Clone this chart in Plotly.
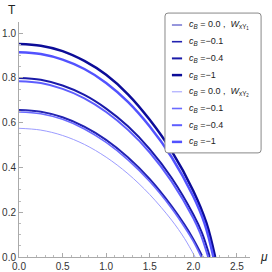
import plotly.graph_objects as go

# ---- data ----
mu_w1_c0 = [0, 0.25, 0.5, 0.75, 1.0, 1.25, 1.5, 1.75, 1.9, 2.0, 2.10]
T_w1_c0 = [0.655, 0.647, 0.622, 0.579, 0.520, 0.442, 0.345, 0.225, 0.141, 0.077, 0.0]

mu_w1_c01 = [0, 0.25, 0.5, 0.75, 1.0, 1.25, 1.5, 1.75, 1.9, 2.0, 2.11]
T_w1_c01 = [0.658, 0.650, 0.625, 0.583, 0.524, 0.446, 0.349, 0.229, 0.145, 0.081, 0.0]

mu_w1_c04 = [0, 0.25, 0.5, 0.75, 1.0, 1.25, 1.5, 1.75, 2.0, 2.1, 2.19]
T_w1_c04 = [0.800, 0.792, 0.766, 0.724, 0.663, 0.584, 0.482, 0.354, 0.190, 0.107, 0.0]

mu_w1_c1 = [0, 0.25, 0.5, 0.75, 1.0, 1.25, 1.5, 1.75, 2.0, 2.15, 2.25]
T_w1_c1 = [0.952, 0.944, 0.920, 0.876, 0.814, 0.727, 0.613, 0.474, 0.295, 0.152, 0.0]

mu_w2_c0 = [0, 0.25, 0.5, 0.75, 1.0, 1.25, 1.5, 1.75, 1.9, 2.02]
T_w2_c0 = [0.575, 0.567, 0.543, 0.503, 0.446, 0.372, 0.279, 0.165, 0.082, 0.0]

mu_w2_c01 = [0, 0.25, 0.5, 0.75, 1.0, 1.25, 1.5, 1.75, 1.9, 2.0, 2.09]
T_w2_c01 = [0.648, 0.640, 0.615, 0.572, 0.512, 0.434, 0.337, 0.218, 0.133, 0.070, 0.0]

mu_w2_c04 = [0, 0.25, 0.5, 0.75, 1.0, 1.25, 1.5, 1.75, 2.0, 2.08, 2.17]
T_w2_c04 = [0.785, 0.777, 0.751, 0.709, 0.648, 0.568, 0.467, 0.338, 0.173, 0.105, 0.0]

mu_w2_c1 = [0, 0.25, 0.5, 0.75, 1.0, 1.25, 1.5, 1.75, 2.0, 2.13, 2.23]
T_w2_c1 = [0.915, 0.907, 0.882, 0.840, 0.778, 0.693, 0.583, 0.447, 0.270, 0.148, 0.0]

labels = [
    "<i>c</i><sub><i>B</i></sub> = 0.0 ,  <i>W</i><sub>xY<sub>1</sub></sub>",
    "<i>c</i><sub><i>B</i></sub> =−0.1",
    "<i>c</i><sub><i>B</i></sub> =−0.4",
    "<i>c</i><sub><i>B</i></sub> =−1",
    "<i>c</i><sub><i>B</i></sub> = 0.0 ,  <i>W</i><sub>xY<sub>2</sub></sub>",
    "<i>c</i><sub><i>B</i></sub> =−0.1",
    "<i>c</i><sub><i>B</i></sub> =−0.4",
    "<i>c</i><sub><i>B</i></sub> =−1",
]

series = [
    (mu_w1_c0, T_w1_c0, "#2e2eba", 1.0),
    (mu_w1_c01, T_w1_c01, "#2222b0", 1.6),
    (mu_w1_c04, T_w1_c04, "#1a1aa8", 2.0),
    (mu_w1_c1, T_w1_c1, "#0c0c98", 2.5),
    (mu_w2_c0, T_w2_c0, "#9c9cff", 1.0),
    (mu_w2_c01, T_w2_c01, "#6a6aff", 1.6),
    (mu_w2_c04, T_w2_c04, "#5e5eff", 2.0),
    (mu_w2_c1, T_w2_c1, "#5252ff", 2.5),
]

fig = go.Figure()
for (x, y, c, w), name in zip(series, labels):
    fig.add_trace(go.Scatter(x=x, y=y, mode="lines", name=name, showlegend=False,
                             line=dict(color=c, width=w, shape="spline", smoothing=1.0)))

axis_common = dict(showgrid=False, zeroline=False, showline=True, linecolor="#aaaaaa",
                   linewidth=1, ticks="inside", tickcolor="#aaaaaa", ticklen=4,
                   tickfont=dict(family="Liberation Sans", size=10, color="#333333"),
                   mirror=False, automargin=False)

fig.update_xaxes(range=[0, 2.65], tickvals=[0, 0.5, 1.0, 1.5, 2.0, 2.5],
                 ticktext=["0.0", "0.5", "1.0", "1.5", "2.0", "2.5"],
                 minor=dict(dtick=0.1, ticks="inside", ticklen=2, tickcolor="#bbbbbb"),
                 **axis_common)
fig.update_yaxes(range=[0, 1.05], tickvals=[0, 0.2, 0.4, 0.6, 0.8, 1.0],
                 ticktext=["0.0", "0.2", "0.4", "0.6", "0.8", "1.0"],
                 minor=dict(dtick=0.05, ticks="inside", ticklen=2, tickcolor="#bbbbbb"),
                 **axis_common)

fig.add_annotation(text="T", xref="paper", yref="paper", x=-0.03, y=1.05,
                   xanchor="center", yanchor="middle", showarrow=False,
                   font=dict(family="Liberation Sans", size=12, color="#222222"))
fig.add_annotation(text="<i>μ</i>", xref="paper", yref="paper", x=1.035, y=0.0,
                   xanchor="left", yanchor="middle", showarrow=False,
                   font=dict(family="Liberation Sans", size=12, color="#222222"))

# ---- legend box (drawn with layout shapes/annotations), rounded corners ----
bx0, bx1, by0, by1 = 0.632, 1.048, 0.443, 1.038
rx, ry = 3 / 231, 3 / 235
box_path = (f"M {bx0+rx},{by0} L {bx1-rx},{by0} Q {bx1},{by0} {bx1},{by0+ry} "
            f"L {bx1},{by1-ry} Q {bx1},{by1} {bx1-rx},{by1} L {bx0+rx},{by1} "
            f"Q {bx0},{by1} {bx0},{by1-ry} L {bx0},{by0+ry} Q {bx0},{by0} {bx0+rx},{by0} Z")
fig.add_shape(type="path", path=box_path, xref="paper", yref="paper",
              line=dict(color="#888888", width=1), fillcolor="white", layer="above")
for i, ((_, _, c, w), name) in enumerate(zip(series, labels)):
    yy = (232 - 16.7 * i) / 235
    fig.add_shape(type="line", xref="paper", yref="paper", x0=0.662, x1=0.706, y0=yy, y1=yy,
                  line=dict(color=c, width=w), layer="above")
    fig.add_annotation(text=name, xref="paper", yref="paper", x=0.727, y=yy,
                       xanchor="left", yanchor="middle", showarrow=False,
                       font=dict(family="Liberation Sans", size=9, color="#222222"))

fig.update_layout(
    width=272, height=272,
    margin=dict(l=19, r=22, t=22, b=15),
    plot_bgcolor="white", paper_bgcolor="white",
    showlegend=False,
)

fig.write_html("out.html", config={"displayModeBar": False},
               post_script="document.body.style.margin='0';document.body.style.overflow='hidden';")
